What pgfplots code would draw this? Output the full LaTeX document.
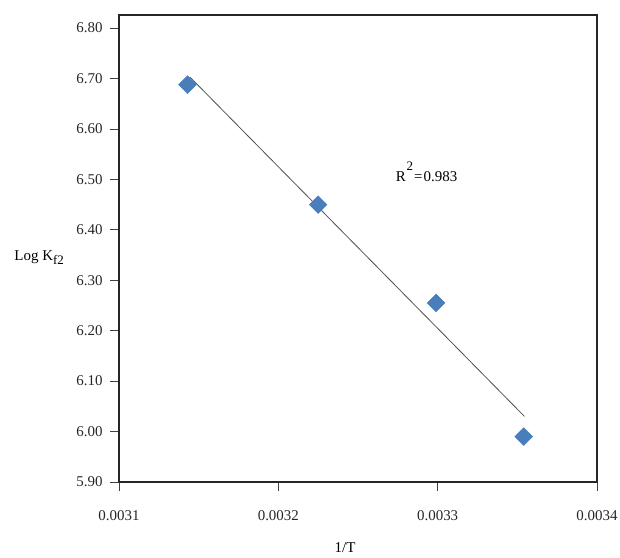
\documentclass[border=0pt]{standalone}
\usepackage{pgfplots}
\pgfplotsset{compat=1.18}
\usepackage{fontspec}
\setmainfont{Liberation Serif}
\definecolor{mblue}{HTML}{4A7EBB}
\definecolor{tline}{HTML}{505050}
\begin{document}
\begin{tikzpicture}
\begin{axis}[
  scale only axis,
  width=478bp, height=467bp,
  xmin=0.0031, xmax=0.0034,
  ymin=5.90, ymax=6.826,
  xtick={0.0031,0.0032,0.0033,0.0034},
  ytick={5.9,6.0,6.1,6.2,6.3,6.4,6.5,6.6,6.7,6.8},
  scaled x ticks=false,
  scaled y ticks=false,
  xticklabel style={/pgf/number format/fixed,/pgf/number format/precision=4,/pgf/number format/fixed zerofill, yshift=-16bp},
  yticklabel style={/pgf/number format/fixed,/pgf/number format/precision=2,/pgf/number format/fixed zerofill, xshift=-4bp},
  /pgf/number format/assume math mode=true,
  tick label style={font=\fontsize{15}{17}\selectfont, text=black!85},
  tick align=outside,
  tick pos=left,
  major tick length=9bp,
  tick style={line width=0.9bp, color=black!75},
  axis line style={line width=1.8bp, color=black!85},
  xlabel={1/T},
  xlabel style={at={(axis description cs:0.473,-0.141)}, anchor=center, font=\fontsize{15}{17}\selectfont},
  ylabel={Log K\raisebox{-0.55ex}{\fontsize{13}{13}\selectfont f2}},
  ylabel style={rotate=-90, at={(axis description cs:-0.226,0.48)}, anchor=west, font=\fontsize{15}{17}\selectfont},
  clip=false,
]
\addplot[tline, line width=0.8bp, no markers] coordinates {(0.0031445,6.703) (0.0033545,6.030)};
\addplot[only marks, mark=square*, mark size=6.3bp, mark options={rotate=45, fill=mblue, draw=mblue}] coordinates {
  (0.003143,6.688)
  (0.003225,6.450)
  (0.003299,6.255)
  (0.003354,5.990)
};
\node[anchor=west, font=\fontsize{15}{17}\selectfont] at (axis cs:0.0032715,6.515) {R\kern1bp\raisebox{1.5ex}{\fontsize{13}{13}\selectfont 2}\kern1bp=\kern1bp0.983};
\end{axis}
\pgfresetboundingbox
\useasboundingbox (current axis.south west) ++(-119bp,-76bp) rectangle ++(620bp,558bp);
\end{tikzpicture}
\end{document}
